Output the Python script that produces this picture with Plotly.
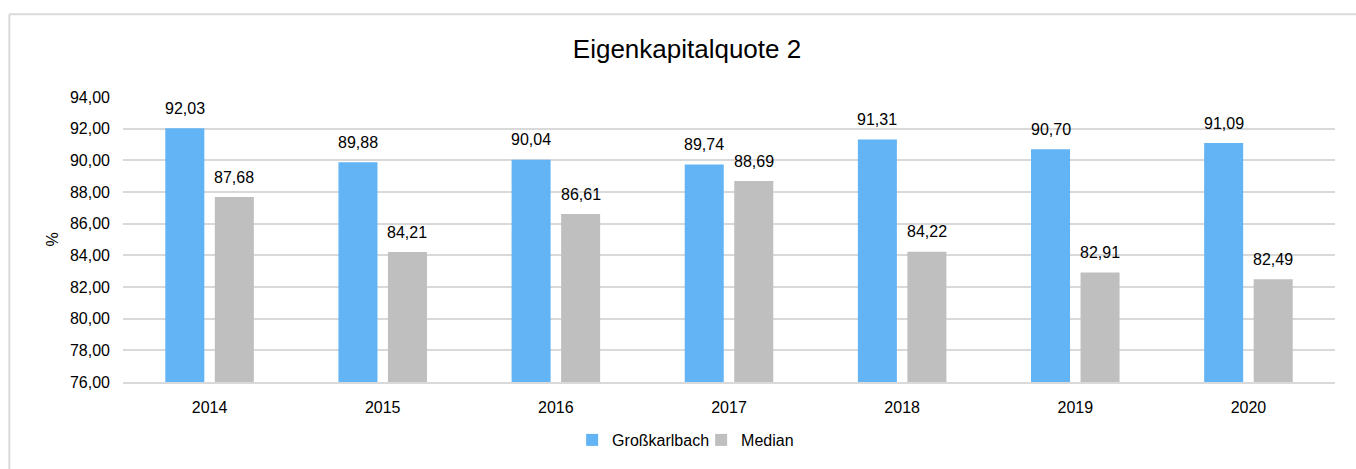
import plotly.graph_objects as go

years = ["2014", "2015", "2016", "2017", "2018", "2019", "2020"]
grosskarlbach = [92.03, 89.88, 90.04, 89.74, 91.31, 90.70, 91.09]
median = [87.68, 84.21, 86.61, 88.69, 84.22, 82.91, 82.49]
series_names = ["Großkarlbach", "Median"]
colors = ["#63B4F5", "#BFBFBF"]
y_ticks = [76, 78, 80, 82, 84, 86, 88, 90, 92, 94]

FONT = "Liberation Sans, Arial, sans-serif"

def fmt(v):
    return f"{v:.2f}".replace(".", ",")

fig = go.Figure()
for name, vals, col in zip(series_names, [grosskarlbach, median], colors):
    fig.add_trace(go.Bar(
        x=years, y=vals, name=name, marker=dict(color=col, line=dict(width=0)),
        hoverinfo="x+y",
    ))

annotations = []
for vals, shift in [(grosskarlbach, -24.75), (median, 24.75)]:
    for idx, v in enumerate(vals):
        annotations.append(dict(
            x=idx, y=v, xref="x", yref="y", text=fmt(v), showarrow=False,
            xshift=shift, yshift=20, yanchor="middle", xanchor="center",
            font=dict(family=FONT, size=16, color="#000000"),
        ))

annotations.append(dict(
    x=(52 - 123) / 1212, y=0.5, xref="paper", yref="paper", text="%",
    textangle=-90, showarrow=False, xanchor="center", yanchor="middle",
    font=dict(family=FONT, size=16, color="#000000"),
))

fig.update_layout(
    width=1356, height=469,
    margin=dict(l=123, r=21, t=97, b=87),
    paper_bgcolor="white", plot_bgcolor="white",
    separators=",.",
    barmode="group", bargap=0.428, bargroupgap=0.212,
    title=dict(text="Eigenkapitalquote 2", x=687 / 1356, xanchor="center",
               y=1 - 49 / 469, yanchor="middle",
               font=dict(family=FONT, size=26, color="#000000")),
    font=dict(family=FONT, size=16, color="#000000"),
    showlegend=True,
    legend=dict(orientation="h", x=0.477, xanchor="center", y=-0.2035, yanchor="middle",
                font=dict(family=FONT, size=16, color="#000000"),
                itemwidth=30, entrywidth=84, traceorder="normal"),
    annotations=annotations,
    shapes=[
        dict(type="line", xref="paper", yref="paper", x0=-0.0938, x1=1.2, y0=1.290, y1=1.290,
             line=dict(color="#D9D9D9", width=2)),
        dict(type="line", xref="paper", yref="paper", x0=-0.0938, x1=-0.0938, y0=1.290, y1=-0.5,
             line=dict(color="#D9D9D9", width=2)),
    ],
)
fig.update_xaxes(
    type="category", range=[-0.5, 6.5], showgrid=False, showline=True,
    linecolor="#D9D9D9", linewidth=2,
    ticks="", ticklabelstandoff=10, tickfont=dict(family=FONT, size=16, color="#000000"),
)
fig.update_yaxes(
    range=[76, 94], tickvals=y_ticks, tickformat=".2f", showgrid=True,
    gridcolor="#D9D9D9", gridwidth=2, zeroline=False, showline=False, ticks="",
    ticklabelstandoff=12, tickfont=dict(family=FONT, size=16, color="#000000"),
)

fig.write_html("out.html", config={"displayModeBar": False},
               post_script="document.body.style.margin='0';")
